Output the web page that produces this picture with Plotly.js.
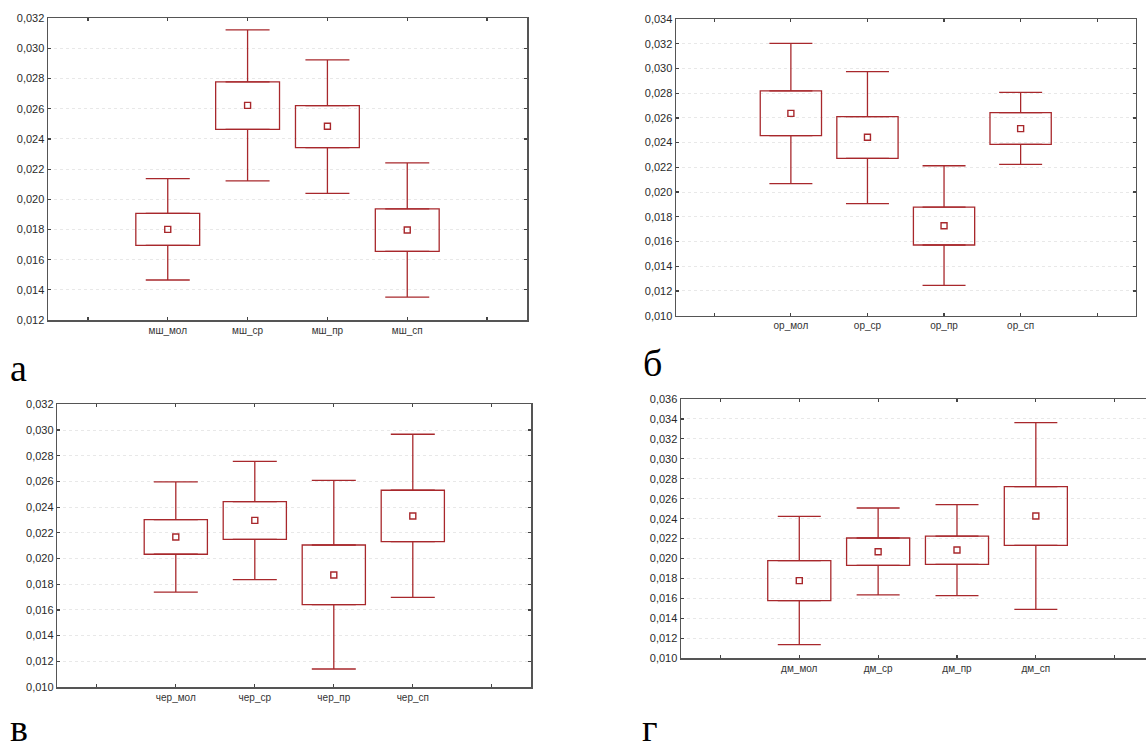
<!DOCTYPE html>
<html>
<head>
<meta charset="utf-8">
<script src="https://cdn.plot.ly/plotly-3.0.1.min.js"></script>
<style>
html,body{margin:0;padding:0;background:#fff;}
#chart{width:1146px;height:751px;}
</style>
</head>
<body>
<div id="chart"></div>
<script>
// ---- Data ----
// Panel а
const catsA = ['мш_мол', 'мш_ср', 'мш_пр', 'мш_сп'];
const meanA = [0.01801, 0.02623, 0.02484, 0.01797];
const boxLoA = [0.01695, 0.02464, 0.02343, 0.01655];
const boxHiA = [0.01907, 0.02778, 0.02621, 0.01936];
const whLoA = [0.01465, 0.02122, 0.02040, 0.01352];
const whHiA = [0.02137, 0.03123, 0.02924, 0.02241];

// Panel б
const catsB = ['ор_мол', 'ор_ср', 'ор_пр', 'ор_сп'];
const meanB = [0.02637, 0.02443, 0.01728, 0.02513];
const boxLoB = [0.02456, 0.02273, 0.01572, 0.02386];
const boxHiB = [0.02818, 0.02610, 0.01879, 0.02642];
const whLoB = [0.02068, 0.01906, 0.01245, 0.02224];
const whHiB = [0.03203, 0.02974, 0.02213, 0.02807];

// Panel в
const catsV = ['чер_мол', 'чер_ср', 'чер_пр', 'чер_сп'];
const meanV = [0.02167, 0.02297, 0.01872, 0.02331];
const boxLoV = [0.02033, 0.02149, 0.01641, 0.02131];
const boxHiV = [0.02302, 0.02442, 0.02105, 0.02531];
const whLoV = [0.01739, 0.01835, 0.01140, 0.01698];
const whHiV = [0.02596, 0.02756, 0.02608, 0.02967];

// Panel г
const catsG = ['дм_мол', 'дм_ср', 'дм_пр', 'дм_сп'];
const meanG = [0.01779, 0.02069, 0.02086, 0.02427];
const boxLoG = [0.01578, 0.01932, 0.01942, 0.02133];
const boxHiG = [0.01979, 0.02206, 0.02226, 0.02721];
const whLoG = [0.01137, 0.01635, 0.01628, 0.01491];
const whHiG = [0.02424, 0.02507, 0.02541, 0.03363];

const panelLetters = ['а', 'б', 'в', 'г'];

// ---- Styling / layout ----
const W = 1146, H = 751;
const RED = '#a8282c';
const panels = [
  {cats: catsA, mean: meanA, lo: boxLoA, hi: boxHiA, wl: whLoA, wh: whHiA,
   px: [48, 527], py: [18.3, 320], yr: [0.012, 0.032], xr: [-0.5, 5.5], mirrorY: true, cap: 22},
  {cats: catsB, mean: meanB, lo: boxLoB, hi: boxHiB, wl: whLoB, wh: whHiB,
   px: [676, 1135.5], py: [19, 315.7], yr: [0.010, 0.034], xr: [-0.5, 5.5], mirrorY: true, cap: 21.5},
  {cats: catsV, mean: meanV, lo: boxLoV, hi: boxHiV, wl: whLoV, wh: whHiV,
   px: [57.3, 531.3], py: [404.3, 687], yr: [0.010, 0.032], xr: [-0.5, 5.5], mirrorY: true, cap: 22},
  {cats: catsG, mean: meanG, lo: boxLoG, hi: boxHiG, wl: whLoG, wh: whHiG,
   px: [681, 1146], py: [399, 658.3], yr: [0.010, 0.036], xr: [-0.5, 5.397], mirrorY: false, cap: 21.5}
];

const traces = [];
const layout = {
  width: W, height: H,
  margin: {l: 0, r: 0, t: 0, b: 0},
  paper_bgcolor: '#fff', plot_bgcolor: '#fff',
  showlegend: false,
  separators: ', ',
  bargap: 0.2,
  font: {family: 'Liberation Sans, Arial, sans-serif', size: 11, color: '#2a2a2a'},
  annotations: []
};

panels.forEach((p, i) => {
  const n = i === 0 ? '' : String(i + 1);
  const xa = 'x' + n, ya = 'y' + n;
  const pos = p.cats.map((c, k) => k + 1);
  // box (mean ± SE)
  traces.push({
    type: 'bar', xaxis: xa, yaxis: ya,
    x: pos, base: p.lo, y: p.hi.map((h, k) => h - p.lo[k]),
    width: 0.8,
    marker: {color: 'rgba(255,255,255,0)', line: {color: RED, width: 1.3}},
    hoverinfo: 'skip'
  });
  // upper whiskers
  traces.push({
    type: 'scatter', mode: 'markers', xaxis: xa, yaxis: ya,
    x: pos, y: p.hi,
    marker: {size: 1, opacity: 0},
    error_y: {type: 'data', symmetric: false,
      array: p.wh.map((v, k) => v - p.hi[k]), arrayminus: p.hi.map(() => 0),
      color: RED, thickness: 1.3, width: p.cap},
    hoverinfo: 'skip'
  });
  // lower whiskers
  traces.push({
    type: 'scatter', mode: 'markers', xaxis: xa, yaxis: ya,
    x: pos, y: p.lo,
    marker: {size: 1, opacity: 0},
    error_y: {type: 'data', symmetric: false,
      array: p.lo.map(() => 0), arrayminus: p.lo.map((v, k) => v - p.wl[k]),
      color: RED, thickness: 1.3, width: p.cap},
    hoverinfo: 'skip'
  });
  // mean markers
  traces.push({
    type: 'scatter', mode: 'markers', xaxis: xa, yaxis: ya,
    x: pos, y: p.mean,
    marker: {symbol: 'square-open', size: 6, color: RED, line: {color: RED, width: 1.4}},
    hoverinfo: 'skip'
  });
  const tv = [0, 1, 2, 3, 4, 5];
  const tt = ['', ...p.cats, ''];
  layout['xaxis' + n] = {
    domain: [p.px[0] / W, p.px[1] / W],
    anchor: ya,
    range: p.xr,
    tickmode: 'array', tickvals: tv, ticktext: tt,
    ticks: 'inside', ticklen: 3, tickwidth: 1.2, tickcolor: '#444',
    showline: true, linecolor: '#555', linewidth: 1.5,
    mirror: 'ticks',
    showgrid: false, zeroline: false,
    tickfont: {size: 10, color: '#333'},
    fixedrange: true
  };
  layout['yaxis' + n] = {
    domain: [1 - p.py[1] / H, 1 - p.py[0] / H],
    anchor: xa,
    range: [p.yr[0] - 1e-7, p.yr[1] + 1e-7],
    tick0: 0, dtick: 0.002, tickformat: '.3f',
    ticks: 'inside', ticklen: 3, tickwidth: 1.2, tickcolor: '#444',
    showline: true, linecolor: '#555', linewidth: 1.5,
    mirror: p.mirrorY ? 'ticks' : false,
    showgrid: true, gridcolor: '#e8e8e8', griddash: 'dot', gridwidth: 1,
    zeroline: false,
    tickfont: {size: 11, color: '#2a2a2a'},
    fixedrange: true
  };
});

// Panel letters
const letterPos = [[18, 391], [652, 386], [19, 751], [650, 751]];
panelLetters.forEach((t, i) => {
  layout.annotations.push({
    xref: 'paper', yref: 'paper',
    x: letterPos[i][0] / W, y: 1 - letterPos[i][1] / H,
    xanchor: 'center', yanchor: 'bottom',
    text: t, showarrow: false,
    font: {family: 'Liberation Serif, Times New Roman, serif', size: 38, color: '#000'}
  });
});

Plotly.newPlot('chart', traces, layout, {staticPlot: true, displayModeBar: false});
</script>
</body>
</html>
